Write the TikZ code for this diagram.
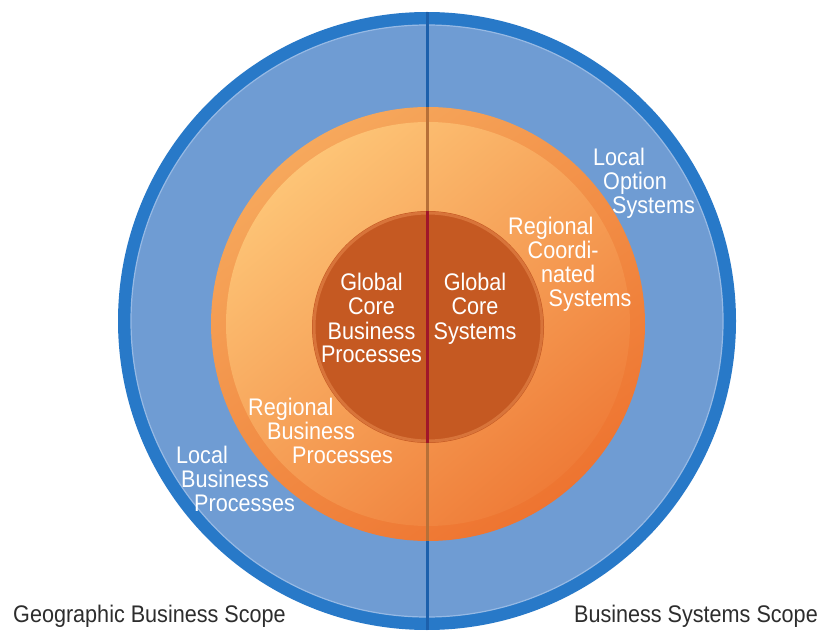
\documentclass[tikz,border=0pt]{standalone}
\usepackage{fontspec}
\setmainfont{Liberation Sans}[FakeStretch=0.9]
\definecolor{ringblue}{RGB}{40,121,200}
\definecolor{fillblue}{RGB}{111,156,211}
\definecolor{edgeblue}{RGB}{150,185,228}
\definecolor{lineblue}{RGB}{28,96,172}
\definecolor{bandlight}{RGB}{246,168,92}
\definecolor{banddark}{RGB}{238,116,48}
\definecolor{corelight}{RGB}{253,196,118}
\definecolor{coredark}{RGB}{239,124,56}
\definecolor{globalfill}{RGB}{197,89,34}
\definecolor{globaledge}{RGB}{216,116,58}
\definecolor{linebrown}{RGB}{183,112,56}
\definecolor{linered}{RGB}{160,22,42}
\definecolor{scopegray}{RGB}{45,45,45}
\tikzset{
  lbl/.style={text=white, font=\fontsize{24}{24}\selectfont, inner sep=0pt, align=left, anchor=base west},
  scope label/.style={text=scopegray, font=\fontsize{24}{24}\selectfont, inner sep=0pt}
}
\begin{document}
\begin{tikzpicture}[x=1pt,y=1pt]
\useasboundingbox[fill=white] (0,0) rectangle (822,630);
\fill[ringblue] (427,309) circle[radius=309pt];
\fill[fillblue] (427,309) circle[radius=296pt];
\draw[edgeblue,line width=1.2pt] (427,309) circle[radius=296pt];
\shade[top color=bandlight, bottom color=banddark, shading angle=35] (428,306) circle[radius=217pt];
\shade[top color=corelight, bottom color=coredark, shading angle=40] (428,306) circle[radius=202pt];
\fill[globalfill] (428,303) circle[radius=116pt];
\draw[globaledge,line width=3pt] (428,303) circle[radius=114pt];
\draw[lineblue,line width=3pt] (427,0)--(427,618);
\draw[linebrown,line width=3pt] (427,89)--(427,523);
\draw[linered,line width=3pt] (427,187)--(427,419);
\node[lbl, align=center, anchor=base] (gcbp) at (371.5,267) {Global\\Core\\Business\\Processes};
\node[lbl, align=center, anchor=base] (gcs) at (475,291) {Global\\Core\\Systems};
\node[lbl] (rcs) at (508,323) {Regional\\\hspace*{19.5pt}Coordi-\\\hspace*{33pt}nated\\\hspace*{40.5pt}Systems};
\node[lbl] (los) at (593,416) {Local\\\hspace*{10pt}Option\\\hspace*{19pt}Systems};
\node[lbl] (rbp) at (248,167) {Regional\\\hspace*{19pt}Business\\\hspace*{44pt}Processes};
\node[lbl] (lbp) at (176,119) {Local\\\hspace*{5pt}Business\\\hspace*{18pt}Processes};
\node[scope label, anchor=base west] (geo) at (13,8) {Geographic Business Scope};
\node[scope label, anchor=base east] (bss) at (818,8) {Business Systems Scope};
\end{tikzpicture}
\end{document}
